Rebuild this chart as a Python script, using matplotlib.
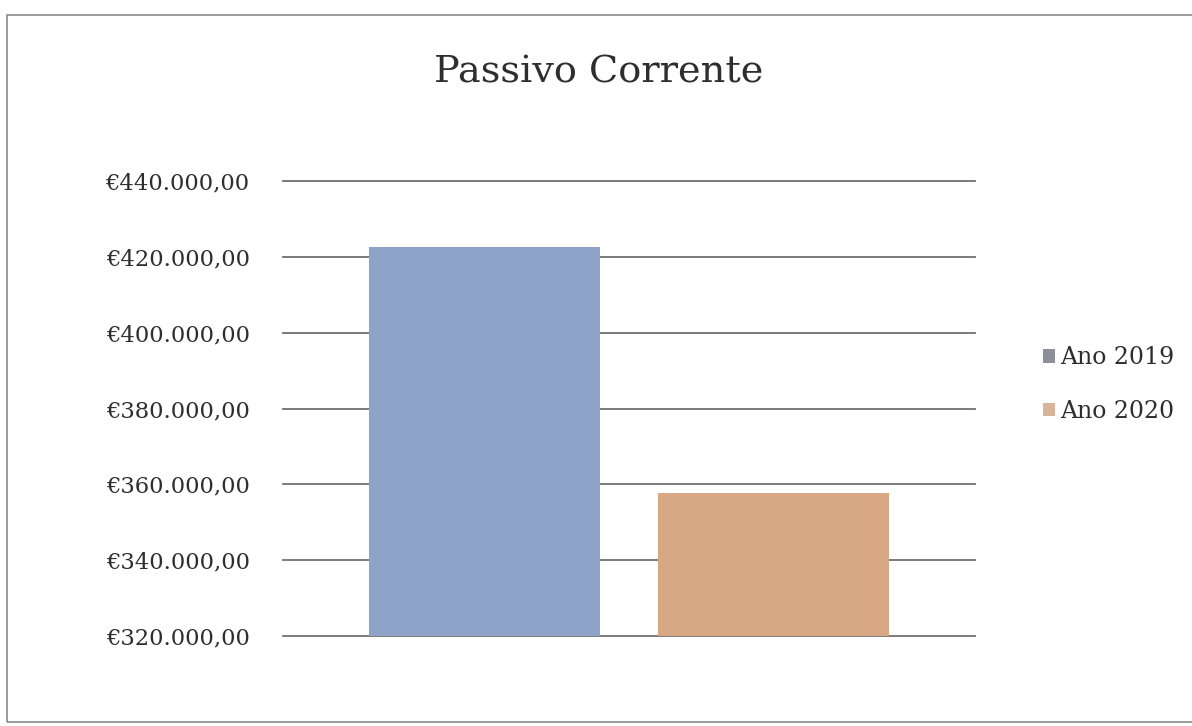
import matplotlib.pyplot as plt
from matplotlib.patches import Rectangle, Patch
from matplotlib.ticker import FuncFormatter

# data
series = ["Ano 2019", "Ano 2020"]
values = [422600, 357600]
colors = ["#8da4c8", "#d8a784"]
legend_colors = ["#8e8e96", "#d9b49a"]
yticks = [320000, 340000, 360000, 380000, 400000, 420000, 440000]

plt.rcParams["font.family"] = ["DejaVu Serif"]

fig = plt.figure(figsize=(11.92, 7.26), dpi=100)
ax = fig.add_axes([0.2374, 0.124, 0.5806, 0.6266])

# bar positions inside the single category
pos = [0.291, 0.709]
ax.bar(pos, values, width=0.334, color=colors, zorder=2)

ax.set_xlim(0, 1)
ax.set_ylim(320000, 440000)
ax.set_yticks(yticks)
ax.yaxis.set_major_formatter(
    FuncFormatter(lambda v, p: "€" + f"{v:,.2f}".replace(",", "X").replace(".", ",").replace("X", "."))
)
ax.tick_params(axis="y", length=0, pad=24, labelsize=16.3, labelcolor="#2e2e2e")
ax.set_xticks([])
ax.grid(axis="y", color="#6f6f6f", linewidth=1.3, zorder=1)
for line in ax.get_ygridlines():
    line.set_clip_on(False)
for s in ax.spines.values():
    s.set_visible(False)

fig.text(0.502, 0.9, "Passivo Corrente", ha="center", va="center",
         fontsize=27.5, color="#2e2e2e")

handles = [Patch(facecolor=c, edgecolor="none") for c in legend_colors]
fig.legend(handles, series, loc="center left", bbox_to_anchor=(0.857, 0.47),
           frameon=False, fontsize=17, handlelength=0.5, handleheight=0.5,
           handletextpad=0.25, labelspacing=1.3, labelcolor="#2e2e2e")

# chart frame
fig.patches.append(Rectangle((0.006, 0.006), 1.2, 0.973, transform=fig.transFigure,
                             fill=False, edgecolor="#8a8a8a", linewidth=1.2))

fig.savefig("out.png", dpi=100)
